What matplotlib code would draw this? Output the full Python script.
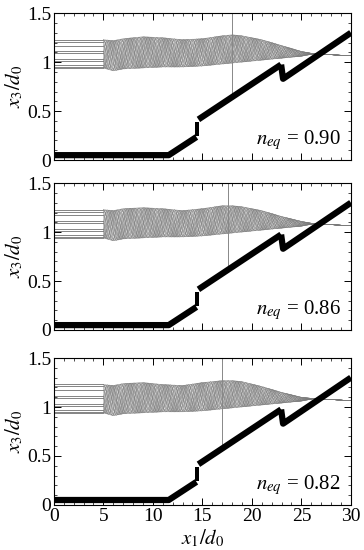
import numpy as np
import matplotlib
matplotlib.use('Agg')
import matplotlib.pyplot as plt
from matplotlib.ticker import MultipleLocator

plt.rcParams['font.family'] = ['Liberation Serif', 'DejaVu Serif']
plt.rcParams['mathtext.fontset'] = 'stix'

# equivalence ratios of the three panels
n_eq = ['0.90', '0.86', '0.82']

# strand start levels (x1/d0 = 0..5)
start_levels = [1.23, 1.21, 1.17, 1.11, 1.09, 1.03, 1.01, 0.97, 0.95, 0.94]

# envelope of the braided strands
env_x = [5, 6, 7, 9, 11, 13, 15, 17, 18, 19, 21, 23, 25, 26.3, 30]
env_upper = [
    [1.23, 1.22, 1.24, 1.26, 1.25, 1.23, 1.24, 1.27, 1.28, 1.27, 1.23, 1.17, 1.11, 1.085, 1.065],
    [1.23, 1.22, 1.24, 1.25, 1.24, 1.22, 1.24, 1.27, 1.27, 1.26, 1.22, 1.16, 1.11, 1.085, 1.065],
    [1.23, 1.22, 1.24, 1.25, 1.23, 1.22, 1.25, 1.27, 1.27, 1.26, 1.21, 1.15, 1.10, 1.085, 1.065],
]
env_lower = [
    [0.94, 0.91, 0.93, 0.94, 0.95, 0.95, 0.96, 0.98, 0.99, 1.00, 1.02, 1.04, 1.06, 1.085, 1.065],
    [0.94, 0.91, 0.93, 0.94, 0.95, 0.95, 0.96, 0.98, 0.99, 1.00, 1.02, 1.04, 1.06, 1.085, 1.065],
    [0.94, 0.91, 0.93, 0.94, 0.95, 0.95, 0.96, 0.98, 0.99, 1.00, 1.02, 1.04, 1.06, 1.085, 1.065],
]

# thick trajectory (three solid pieces) and the dotted jump
traj_a_x = [0, 11.6, 14.4]
traj_a_y = [0.05, 0.05, 0.235]
traj_b_x = [14.6, 22.95]
traj_b_y = [0.415, 0.975]
traj_c_x = [22.95, 23.15, 30]
traj_c_y = [0.975, 0.83, 1.30]
jump_x = [14.45, 14.45, 14.45, 14.45]
jump_y = [0.265, 0.30, 0.335, 0.37]

# position of the thin vertical marker
marker_x = [18.0, 17.6, 17.0]

bottoms = [0.709, 0.400, 0.082]
fig = plt.figure(figsize=(3.64, 5.5), dpi=100)

period = 1.8
for k in range(3):
    ax = fig.add_axes([0.148, bottoms[k], 0.816, 0.267])

    # braided strands: two from each start level
    xs = np.linspace(5, 30, 3000)
    up = np.interp(xs, env_x, env_upper[k])
    lo = np.interp(xs, env_x, env_lower[k])
    mid = (up + lo) / 2
    half = (up - lo) / 2
    m0, h0 = mid[0], half[0]
    for y0 in start_levels:
        ax.plot([0, 5], [y0, y0], color='#707070', lw=0.6)
        u = np.arcsin(np.clip((y0 - m0) / h0, -1, 1))
        for ph in (u, np.pi - u):
            ys = mid + half * np.sin(2 * np.pi * (xs - 5) / period + ph)
            ax.plot(xs, ys, color='#7a7a7a', lw=0.3)

    # vertical marker down to the trajectory
    ybot = np.interp(marker_x[k], traj_b_x, traj_b_y)
    ax.plot([marker_x[k], marker_x[k]], [ybot, 1.5], color='#888888', lw=0.7)

    # trajectory
    for tx, ty in [(traj_a_x, traj_a_y), (traj_b_x, traj_b_y), (traj_c_x, traj_c_y)]:
        ax.plot(tx, ty, color='black', lw=4.5, solid_capstyle='butt')
    ax.plot(jump_x, jump_y, 's', color='black', ms=2.6, mew=0)

    ax.text(29, 0.2, r'$n_{eq}$ = ' + n_eq[k], ha='right', va='center', fontsize=15)

    ax.set_xlim(0, 30)
    ax.set_ylim(0, 1.5)
    ax.xaxis.set_major_locator(MultipleLocator(5))
    ax.xaxis.set_minor_locator(MultipleLocator(1))
    ax.yaxis.set_major_locator(MultipleLocator(0.5))
    ax.yaxis.set_minor_locator(MultipleLocator(0.1))
    ax.yaxis.set_major_formatter(plt.FuncFormatter(lambda v, p: '%g' % v))
    ax.tick_params(which='both', direction='in', top=True, right=True, labelsize=14)
    ax.tick_params(which='major', length=5, width=0.7, pad=2)
    ax.tick_params(which='minor', length=2.5, width=0.5)
    for s in ax.spines.values():
        s.set_linewidth(0.8)
    ax.set_ylabel(r'$x_3/d_0$', fontsize=15, labelpad=1)
    if k < 2:
        ax.set_xticklabels([])
    else:
        ax.xaxis.set_major_formatter(plt.FuncFormatter(lambda v, p: '%g' % v))
        ax.set_xlabel(r'$x_1/d_0$', fontsize=15, labelpad=2)

fig.savefig('out.png', dpi=100)
